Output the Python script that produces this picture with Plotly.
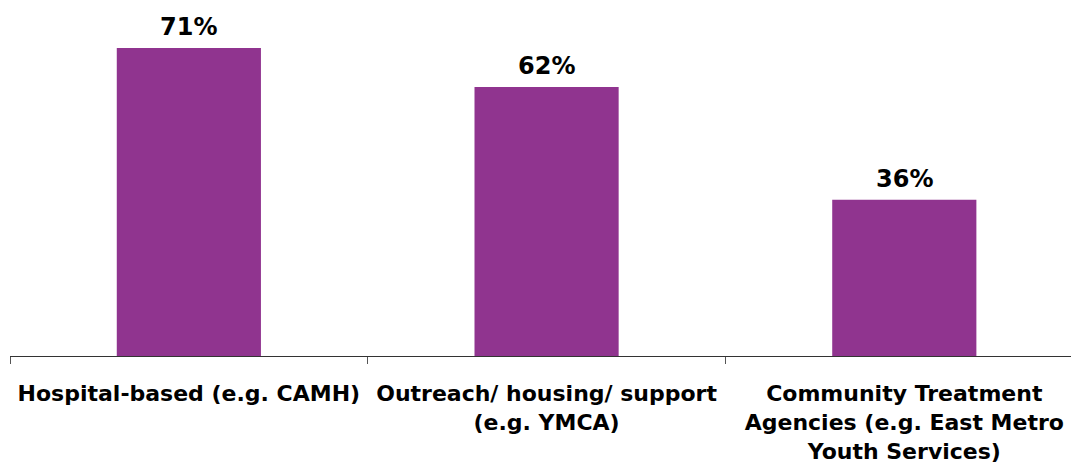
import plotly.graph_objects as go

categories = [
    "Hospital-based (e.g. CAMH)",
    "Outreach/ housing/ support<br>(e.g. YMCA)",
    "Community Treatment<br>Agencies (e.g. East Metro<br>Youth Services)",
]
values = [71, 62, 36]
value_labels = ["71%", "62%", "36%"]

FONT = "DejaVu Sans"
BAR_COLOR = "#90348F"

fig = go.Figure(
    go.Bar(
        x=categories,
        y=values,
        marker=dict(color=BAR_COLOR, line=dict(width=0)),
        width=0.403,
    )
)

# Value labels above each bar
for cat, val, lab in zip(categories, values, value_labels):
    fig.add_annotation(
        x=cat,
        y=val,
        text=lab,
        showarrow=False,
        yanchor="bottom",
        yshift=5,
        font=dict(family=FONT, size=24, color="#000000", weight="bold"),
    )

fig.update_layout(
    width=1071,
    height=465,
    margin=dict(l=10, r=0, t=9, b=109),
    paper_bgcolor="white",
    plot_bgcolor="white",
    showlegend=False,
    font=dict(family=FONT, size=22, color="#000000"),
)

fig.update_xaxes(
    type="category",
    range=[-0.5, 2.466],
    showline=True,
    linecolor="#333333",
    linewidth=1,
    ticks="outside",
    tickson="boundaries",
    ticklen=7,
    tickcolor="#555555",
    tickwidth=1,
    showgrid=False,
    tickfont=dict(family=FONT, size=22, color="#000000", weight="bold"),
    ticklabelstandoff=18,
)
fig.update_yaxes(
    range=[0, 80],
    visible=False,
    showgrid=False,
    zeroline=False,
)

fig.write_html("out.html")
